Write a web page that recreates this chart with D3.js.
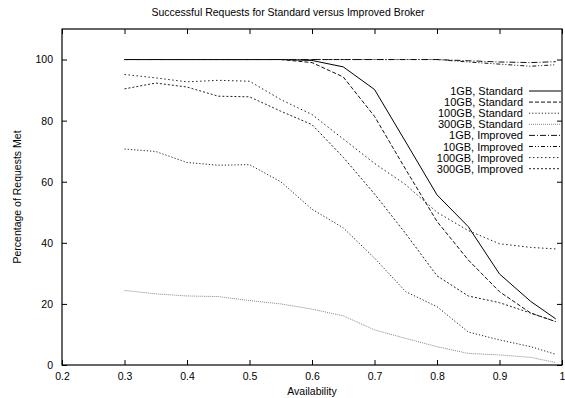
<!DOCTYPE html>
<html>
<head>
<meta charset="utf-8">
<script src="https://cdn.jsdelivr.net/npm/d3@7"></script>
<style>
  body { margin: 0; background: #fff; }
  text { font-family: "Liberation Sans", Arial, sans-serif; fill: #000; }
</style>
</head>
<body>
<svg id="chart" width="565" height="398"></svg>
<script>
// availability values sampled
const availability = [0.3, 0.35, 0.4, 0.45, 0.5, 0.55, 0.6, 0.65, 0.7, 0.75, 0.8, 0.85, 0.9, 0.95, 0.99];

const std1GB   = [100, 100, 100, 100, 100, 100, 99.7, 97.6, 90.2, 73, 55.7, 45.3, 29.8, 20.8, 15.1];
const std10GB  = [100, 100, 100, 100, 100, 100, 99, 94.3, 81.4, 64, 47, 34.4, 24, 17, 14.2];
const std100GB = [70.7, 69.9, 66.3, 65.4, 65.6, 60, 51, 44.9, 35, 24, 19.1, 10.8, 8.2, 6, 3.5];
const std300GB = [24.4, 23.3, 22.6, 22.4, 21.1, 20, 18.3, 16.1, 11.5, 8.7, 6, 3.8, 3.3, 2.5, 0.8];
const imp1GB   = [100, 100, 100, 100, 100, 100, 100, 100, 100, 100, 100, 99.6, 99.2, 99, 99.3];
const imp10GB  = [100, 100, 100, 100, 100, 100, 100, 100, 100, 100, 100, 99.2, 98.5, 97.8, 98.3];
const imp100GB = [95.1, 94, 92.7, 93.2, 92.9, 86.9, 82, 74, 66, 59, 50, 44, 39.7, 38.5, 38];
const imp300GB = [90.4, 92.3, 91, 88, 87.8, 83.1, 78.7, 68, 56, 43, 29.2, 22.6, 20.4, 17, 14.2];

const seriesNames = ["1GB, Standard", "10GB, Standard", "100GB, Standard", "300GB, Standard",
                     "1GB, Improved", "10GB, Improved", "100GB, Improved", "300GB, Improved"];
const seriesValues = [std1GB, std10GB, std100GB, std300GB, imp1GB, imp10GB, imp100GB, imp300GB];

const xTicks = [0.2, 0.3, 0.4, 0.5, 0.6, 0.7, 0.8, 0.9, 1];
const yTicks = [0, 20, 40, 60, 80, 100];

// line looks, one per series
const dashes = [null, "4,2", "1.2,2", "1,1", "6,2,1,2", "4,2,1,2,1,2", "1.5,2.5", "2,2"];
const strokes = ["#000", "#111", "#222", "#888", "#111", "#111", "#222", "#222"];

const svg = d3.select("#chart");
const mLeft = 62, mRight = 562, mTop = 29, mBottom = 365;

const x = d3.scaleLinear().domain([0.2, 1]).range([mLeft, mRight]);
const y = d3.scaleLinear().domain([0, 110]).range([mBottom, mTop]);

svg.append("rect").attr("width", 565).attr("height", 398).attr("fill", "#fff");

// title
svg.append("text")
  .attr("x", 288).attr("y", 16)
  .attr("text-anchor", "middle")
  .style("font-size", "10.5px")
  .text("Successful Requests for Standard versus Improved Broker");

// axes with inward ticks, mirrored
const tickLen = 5;
svg.append("g").attr("transform", `translate(0,${mBottom})`)
  .call(d3.axisBottom(x).tickValues(xTicks).tickSizeInner(-tickLen).tickSizeOuter(0).tickPadding(8)
    .tickFormat(d => d3.format("")(d)));
svg.append("g").attr("transform", `translate(0,${mTop})`)
  .call(d3.axisTop(x).tickValues(xTicks).tickSizeInner(-tickLen).tickSizeOuter(0).tickFormat(""));
svg.append("g").attr("transform", `translate(${mLeft},0)`)
  .call(d3.axisLeft(y).tickValues(yTicks).tickSizeInner(-tickLen).tickSizeOuter(0).tickPadding(9));
svg.append("g").attr("transform", `translate(${mRight},0)`)
  .call(d3.axisRight(y).tickValues(yTicks).tickSizeInner(-tickLen).tickSizeOuter(0).tickFormat(""));

svg.selectAll(".domain").remove();
svg.selectAll(".tick line").attr("stroke", "#000").attr("stroke-width", 1);
svg.selectAll(".tick text").style("font-size", "10.5px").style("font-family", "Liberation Sans, Arial, sans-serif");

// frame
svg.append("rect")
  .attr("x", mLeft).attr("y", mTop)
  .attr("width", mRight - mLeft).attr("height", mBottom - mTop)
  .attr("fill", "none").attr("stroke", "#000").attr("stroke-width", 1.2);

// axis labels
svg.append("text")
  .attr("x", (mLeft + mRight) / 2).attr("y", 395)
  .attr("text-anchor", "middle")
  .style("font-size", "10.5px")
  .text("Availability");

svg.append("text")
  .attr("transform", `translate(21,${(mTop + mBottom) / 2}) rotate(-90)`)
  .attr("text-anchor", "middle")
  .style("font-size", "10.5px")
  .text("Percentage of Requests Met");

// series lines
const line = d3.line()
  .x((d, i) => x(availability[i]))
  .y(d => y(d));

svg.append("g").selectAll("path").data(seriesValues)
  .enter().append("path")
    .attr("d", d => line(d))
    .attr("fill", "none")
    .attr("stroke", (d, i) => strokes[i])
    .attr("stroke-width", 1)
    .attr("stroke-dasharray", (d, i) => dashes[i]);

// legend
const legend = svg.append("g").selectAll("g").data(seriesNames)
  .enter().append("g")
    .attr("transform", (d, i) => `translate(0,${91 + i * 11.1})`);

legend.append("text")
  .attr("x", 523).attr("y", 4)
  .attr("text-anchor", "end")
  .style("font-size", "11px")
  .text(d => d);

legend.append("line")
  .attr("x1", 529).attr("x2", 561)
  .attr("y1", 0).attr("y2", 0)
  .attr("stroke", (d, i) => strokes[i])
  .attr("stroke-width", 1)
  .attr("stroke-dasharray", (d, i) => dashes[i]);
</script>
</body>
</html>
